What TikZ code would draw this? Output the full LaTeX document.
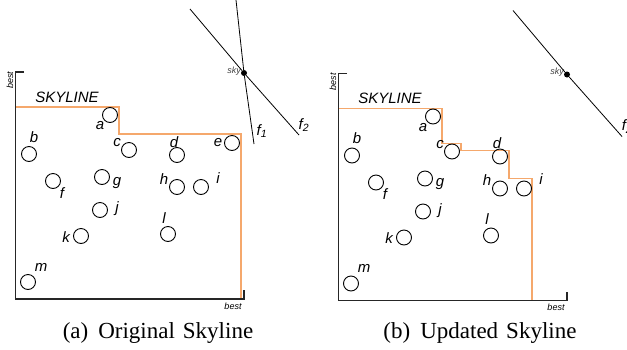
\documentclass[tikz,border=0pt]{standalone}
\usepackage{fontspec}
\setmainfont{Liberation Serif}
\setsansfont{Liberation Sans}
\definecolor{skyorange}{HTML}{F5A86C}
\newcommand\mkpt[6]{%
  \node[ptnode] (#1#2) at (#3,#4) {};
  \node[lbl] (#1#2lab) at ([shift={(#5,#6)}]#1#2.center) {#2};}
\newcommand\commonpts[1]{%
  \mkpt{#1}{a}{110}{115}{-10}{11}
  \mkpt{#1}{b}{29}{154}{5}{-17}
  \mkpt{#1}{c}{129}{150}{-12}{-7}
  \mkpt{#1}{d}{177}{155}{-3}{-13}
  \mkpt{#1}{f}{53}{181}{9}{12}
  \mkpt{#1}{g}{102}{177}{15}{6}
  \mkpt{#1}{h}{177}{187}{-13}{-8}
  \mkpt{#1}{i}{201}{187}{17}{-9}
  \mkpt{#1}{j}{100}{210}{17}{-1}
  \mkpt{#1}{k}{81}{236}{-15}{1}
  \mkpt{#1}{l}{168}{234}{-4}{-16}
  \mkpt{#1}{m}{28}{282}{13}{-15}
  \coordinate (#1top) at (15.5,72);
  \coordinate (#1toptick) at (24,72);
  \coordinate (#1origin) at (15.5,299);
  \coordinate (#1right) at (244,299);
  \coordinate (#1righttick) at (244,290);
  \draw[axisline] (#1toptick) -- (#1top) -- (#1origin) -- (#1right) -- (#1righttick);
  \node[smalllbl,rotate=90] (#1besty) at (10,80) {best};
  \node[smalllbl] (#1bestx) at (233,306) {best};
  \node[skydot] (#1sky) at (244,73) {};
  \node[smalllbl,text=black!75] (#1skylab) at (234,71) {sky};
  \coordinate (#1f2s) at (190,9);
  \coordinate (#1f2e) at (299,135);
  \draw[fline] (#1f2s) -- (#1sky) -- (#1f2e);
  \node[lbl] (#1f2lab) at (304,125) {f\textsubscript{2}};}
\begin{document}
\begin{tikzpicture}[x=1pt,y=-1pt,
  ptnode/.style={circle,draw,line width=0.9pt,minimum size=15pt,inner sep=0pt},
  lbl/.style={font=\sffamily\itshape\fontsize{15}{15}\selectfont,inner sep=0pt},
  smalllbl/.style={font=\sffamily\itshape\fontsize{9}{9}\selectfont,inner sep=0pt},
  axisline/.style={line width=1.1pt,draw=black!85},
  skyline/.style={draw=skyorange,line width=1.8pt},
  fline/.style={line width=0.8pt},
  skydot/.style={circle,fill=black,inner sep=0pt,minimum size=6pt},
  captext/.style={font=\fontsize{23}{23}\selectfont,inner sep=0pt}]
\useasboundingbox (0,0) rectangle (627,349);
% ---------- left panel ----------
\begin{scope}
  \coordinate (LS0) at (16,107);
  \coordinate (LS1) at (119,134);
  \coordinate (LS2) at (241,299);
  \draw[skyline] (LS0) -| (LS1) -| (LS2);
  \commonpts{L}
  \mkpt{L}{e}{232}{143}{-14}{0}
  \node[lbl] (LSKY) at (67,97) {SKYLINE};
  \coordinate (Lf1s) at (236,0);
  \coordinate (Lf1e) at (254,144);
  \draw[fline] (Lf1s) -- (Lsky) -- (Lf1e);
  \node[lbl] (Lf1lab) at (262,131) {f\textsubscript{1}};
\end{scope}
\node[captext] (capa) at (158,333) {(a)\hspace{10pt}Original\hspace{8pt}Skyline};
% ---------- right panel ----------
\begin{scope}[shift={(323,1.5)}]
  \coordinate (RS0) at (16,107);
  \coordinate (RS1) at (119,142);
  \coordinate (RS2) at (138,149);
  \coordinate (RS3) at (186,177);
  \coordinate (RS4) at (209,299);
  \draw[skyline] (RS0) -| (RS1) -| (RS2) -| (RS3) -| (RS4);
  \commonpts{R}
  \node[lbl] (RSKY) at (67,97) {SKYLINE};
\end{scope}
\node[captext] (capb) at (480,333) {(b)\hspace{10pt}Updated\hspace{8pt}Skyline};
\end{tikzpicture}
\end{document}
